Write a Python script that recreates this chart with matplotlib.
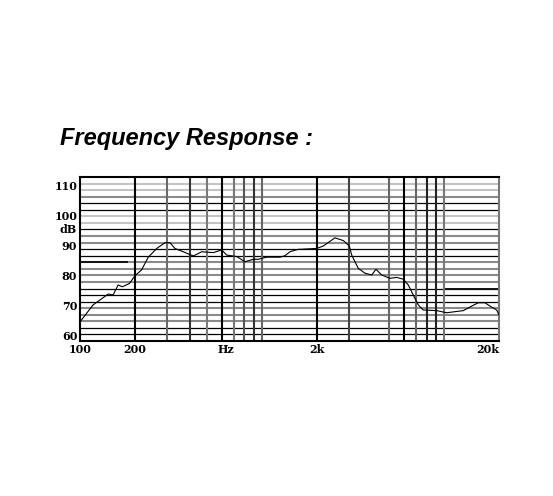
import numpy as np
import matplotlib.pyplot as plt
import matplotlib.transforms as mtransforms

# response curve (Hz, dB)
freq = [101, 118, 143, 152, 162, 171, 187, 200, 218, 237, 264, 293, 312, 332,
        369, 419, 466, 540, 600, 639, 726, 805, 895, 953, 1060, 1254, 1336,
        1423, 1581, 1615, 1995, 2168, 2513, 2793, 3013, 3105, 3375, 3673, 4000,
        4220, 4535, 5037, 5483, 5960, 6350, 6760, 7207, 7674, 9096, 10320,
        12740, 14160, 15390, 16750, 17850, 19420, 20000]
spl = [65.0, 70.3, 73.9, 73.6, 76.9, 76.3, 77.4, 79.9, 81.9, 86.1, 89.0, 90.9,
       90.9, 89.0, 87.9, 86.5, 87.9, 87.6, 88.5, 86.8, 86.3, 84.6, 85.4, 85.4,
       86.1, 86.1, 86.6, 87.9, 88.7, 88.7, 89.0, 89.8, 92.5, 91.6, 89.8, 86.8,
       82.4, 80.8, 80.2, 82.1, 80.2, 79.1, 79.4, 78.8, 76.9, 73.6, 70.3, 68.6,
       68.4, 67.7, 68.4, 69.9, 71.0, 71.0, 69.9, 68.6, 67.0]

ytick_vals = [60, 70, 80, 90, 100, 110]
ytick_labels = ['60', '70', '80', '90', '100', '110']
xtick_vals = [100, 200, 635, 2000, 20000]
xtick_labels = ['100', '200', 'Hz', '2k', '20k']
vlines = [200, 300, 400, 500, 600, 700, 800, 900, 1000,
          2000, 3000, 5000, 6000, 7000, 8000, 9000, 10000]

vcolors = ['#000000', '#6a6a6a', '#333333', '#7a7a7a', '#000000', '#777777',
           '#555555', '#333333', '#666666', '#000000', '#444444', '#666666',
           '#000000', '#666666', '#222222', '#222222', '#777777']
# grid rows, top to bottom
hcolors = ['#c4c4c4', '#c4c4c4', '#8a8a8a', '#000000', '#000000', '#c4c4c4',
           '#c4c4c4', '#000000', '#8a8a8a', '#8a8a8a', '#000000', '#000000',
           '#8a8a8a', '#8a8a8a', '#8a8a8a', '#8a8a8a', '#000000', '#000000',
           '#000000', '#8a8a8a', '#8a8a8a', '#8a8a8a', '#000000', '#000000']

W, H = 553, 496
fig = plt.figure(figsize=(W / 100, H / 100), dpi=100)
fig.patch.set_facecolor('white')

left, right, top, bottom = 80, 499, 177, 341
ax = fig.add_axes([left / W, 1 - bottom / H, (right - left) / W, (bottom - top) / H])
ax.set_xscale('log')
ax.set_xlim(100, 20000)
ylo, yhi = 58.34, 112.65
ax.set_ylim(ylo, yhi)

hl = np.linspace(ylo, yhi, 26)[1:-1]
for y, c in zip(hl[::-1], hcolors):
    ax.axhline(y, color=c, lw=0.9 if c == '#000000' else 1.5, zorder=1)
# darker scan streaks
ax.plot([100, 182], [hl[11], hl[11]], color='#111111', lw=1.4, zorder=1)
ax.plot([10100, 20000], [hl[7], hl[7]], color='#111111', lw=1.4, zorder=1)

for x, c in zip(vlines, vcolors):
    ax.axvline(x, color=c, lw=1.5, zorder=2)

ax.plot(freq, spl, color='black', lw=0.8, zorder=3)

ax.minorticks_off()
ax.set_yticks(ytick_vals)
ax.set_yticklabels(ytick_labels)
ax.set_xticks(xtick_vals)
ax.set_xticklabels(xtick_labels)
ax.tick_params(length=0, pad=2)
for lab in ax.get_xticklabels() + ax.get_yticklabels():
    lab.set_fontfamily('DejaVu Serif')
    lab.set_fontweight('bold')
    lab.set_fontsize(8)
ax.get_xticklabels()[-1].set_horizontalalignment('right')

trans = mtransforms.blended_transform_factory(ax.transAxes, ax.transData)
ax.text(-0.008, 95.4, 'dB', transform=trans, ha='right', va='center',
        family='DejaVu Serif', fontweight='bold', fontsize=8)

for s in ['left', 'top', 'bottom']:
    ax.spines[s].set_linewidth(1.5)
    ax.spines[s].set_color('black')
ax.spines['right'].set_linewidth(1.5)
ax.spines['right'].set_color('#777777')

fig.text(60 / W, 1 - 138 / H, 'Frequency Response :', ha='left', va='center',
         family='Liberation Sans', fontweight='bold', fontstyle='italic', fontsize=17)

fig.savefig('out.png', dpi=100)
